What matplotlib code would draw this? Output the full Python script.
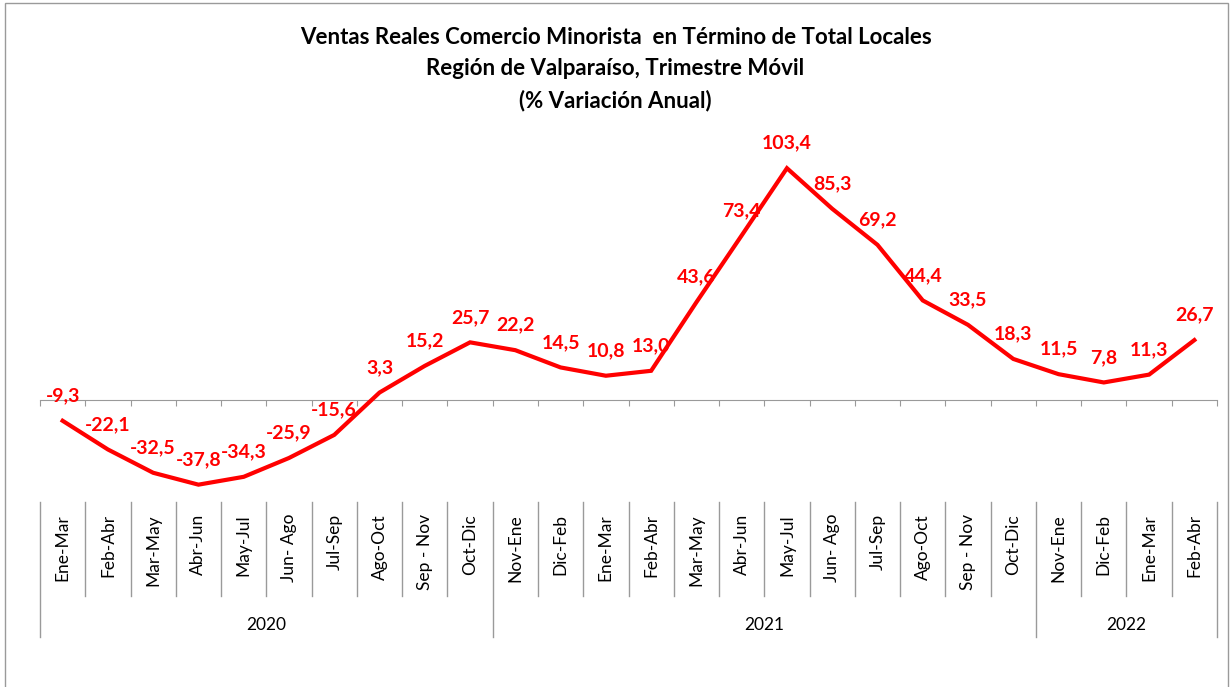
import numpy as np
import matplotlib

matplotlib.use("Agg")
import matplotlib.pyplot as plt
from matplotlib.patches import Rectangle

plt.rcParams["font.family"] = ["Lato", "DejaVu Sans"]

# ---- data ----
PERIODS = ["Ene-Mar", "Feb-Abr", "Mar-May", "Abr-Jun", "May-Jul", "Jun- Ago",
           "Jul-Sep", "Ago-Oct", "Sep - Nov", "Oct-Dic",
           "Nov-Ene", "Dic-Feb", "Ene-Mar", "Feb-Abr", "Mar-May", "Abr-Jun",
           "May-Jul", "Jun- Ago", "Jul-Sep", "Ago-Oct", "Sep - Nov", "Oct-Dic",
           "Nov-Ene", "Dic-Feb", "Ene-Mar", "Feb-Abr"]
VALUES = [-9.3, -22.1, -32.5, -37.8, -34.3, -25.9, -15.6, 3.3, 15.2, 25.7,
          22.2, 14.5, 10.8, 13.0, 43.6, 73.4, 103.4, 85.3, 69.2, 44.4, 33.5,
          18.3, 11.5, 7.8, 11.3, 26.7]
YEARS = ["2020", "2021", "2022"]
YEAR_SIZES = [10, 12, 4]

TITLE = ("Ventas Reales Comercio Minorista  en Término de Total Locales\n"
         "Región de Valparaíso, Trimestre Móvil\n"
         "(% Variación Anual)")

W, H = 1231, 687
AX_L, AX_R, AX_T, AX_B = 40, 1217, 131, 512   # pixel box of the plot area
GRAY = "#9a9a9a"
RED = "#ff0000"


def fy(px):
    """pixel row -> axes fraction"""
    return (AX_B - px) / (AX_B - AX_T)


def main():
    fig = plt.figure(figsize=(W / 100, H / 100), dpi=100)
    ax = fig.add_axes([AX_L / W, 1 - AX_B / H, (AX_R - AX_L) / W, (AX_B - AX_T) / H])

    x = np.arange(len(VALUES))
    ax.plot(x, VALUES, color=RED, lw=3, solid_joinstyle="miter", zorder=3)
    for xi, v in zip(x, VALUES):
        ax.annotate(f"{v:.1f}".replace(".", ","), (xi, v), xytext=(0, 18),
                    textcoords="offset points", ha="center", va="center",
                    color=RED, fontsize=14, fontweight="bold", zorder=4)

    ax.set_xlim(-0.5, len(VALUES) - 0.5)
    ax.set_ylim(-50, 120)
    for s in ["top", "right", "left"]:
        ax.spines[s].set_visible(False)
    ax.spines["bottom"].set_position(("data", 0))
    ax.spines["bottom"].set_color(GRAY)
    ax.set_yticks([])
    ax.set_xticks(np.arange(len(VALUES) + 1) - 0.5)
    ax.tick_params(axis="x", direction="out", length=4.5, color=GRAY, labelbottom=False)

    # multi-level category axis drawn below the plot
    tr = ax.get_xaxis_transform()
    bounds = np.cumsum([0] + YEAR_SIZES) - 0.5
    for b in np.arange(len(VALUES) + 1) - 0.5:
        y_end = 637 if b in bounds else 596
        ax.plot([b, b], [fy(502), fy(y_end)], color=GRAY, lw=1,
                transform=tr, clip_on=False)
    for xi, lab in zip(x, PERIODS):
        ax.text(xi, fy(514), lab, rotation=90, ha="center", va="top",
                fontsize=12.5, transform=tr)
    for i, yr in enumerate(YEARS):
        ax.text((bounds[i] + bounds[i + 1]) / 2, fy(625), yr, ha="center",
                va="center", fontsize=12.5, transform=tr)

    fig.text(0.5, 1 - 69 / H, TITLE, ha="center", va="center", fontsize=16,
             fontweight="bold", linespacing=1.6)

    fig.patches.append(Rectangle((5 / W, -0.1), (W - 8) / W, 1.1 - 3 / H,
                                 transform=fig.transFigure, fill=False,
                                 edgecolor=GRAY, lw=1))

    fig.savefig("out.png", dpi=100)
    plt.close(fig)


if __name__ == "__main__":
    main()
